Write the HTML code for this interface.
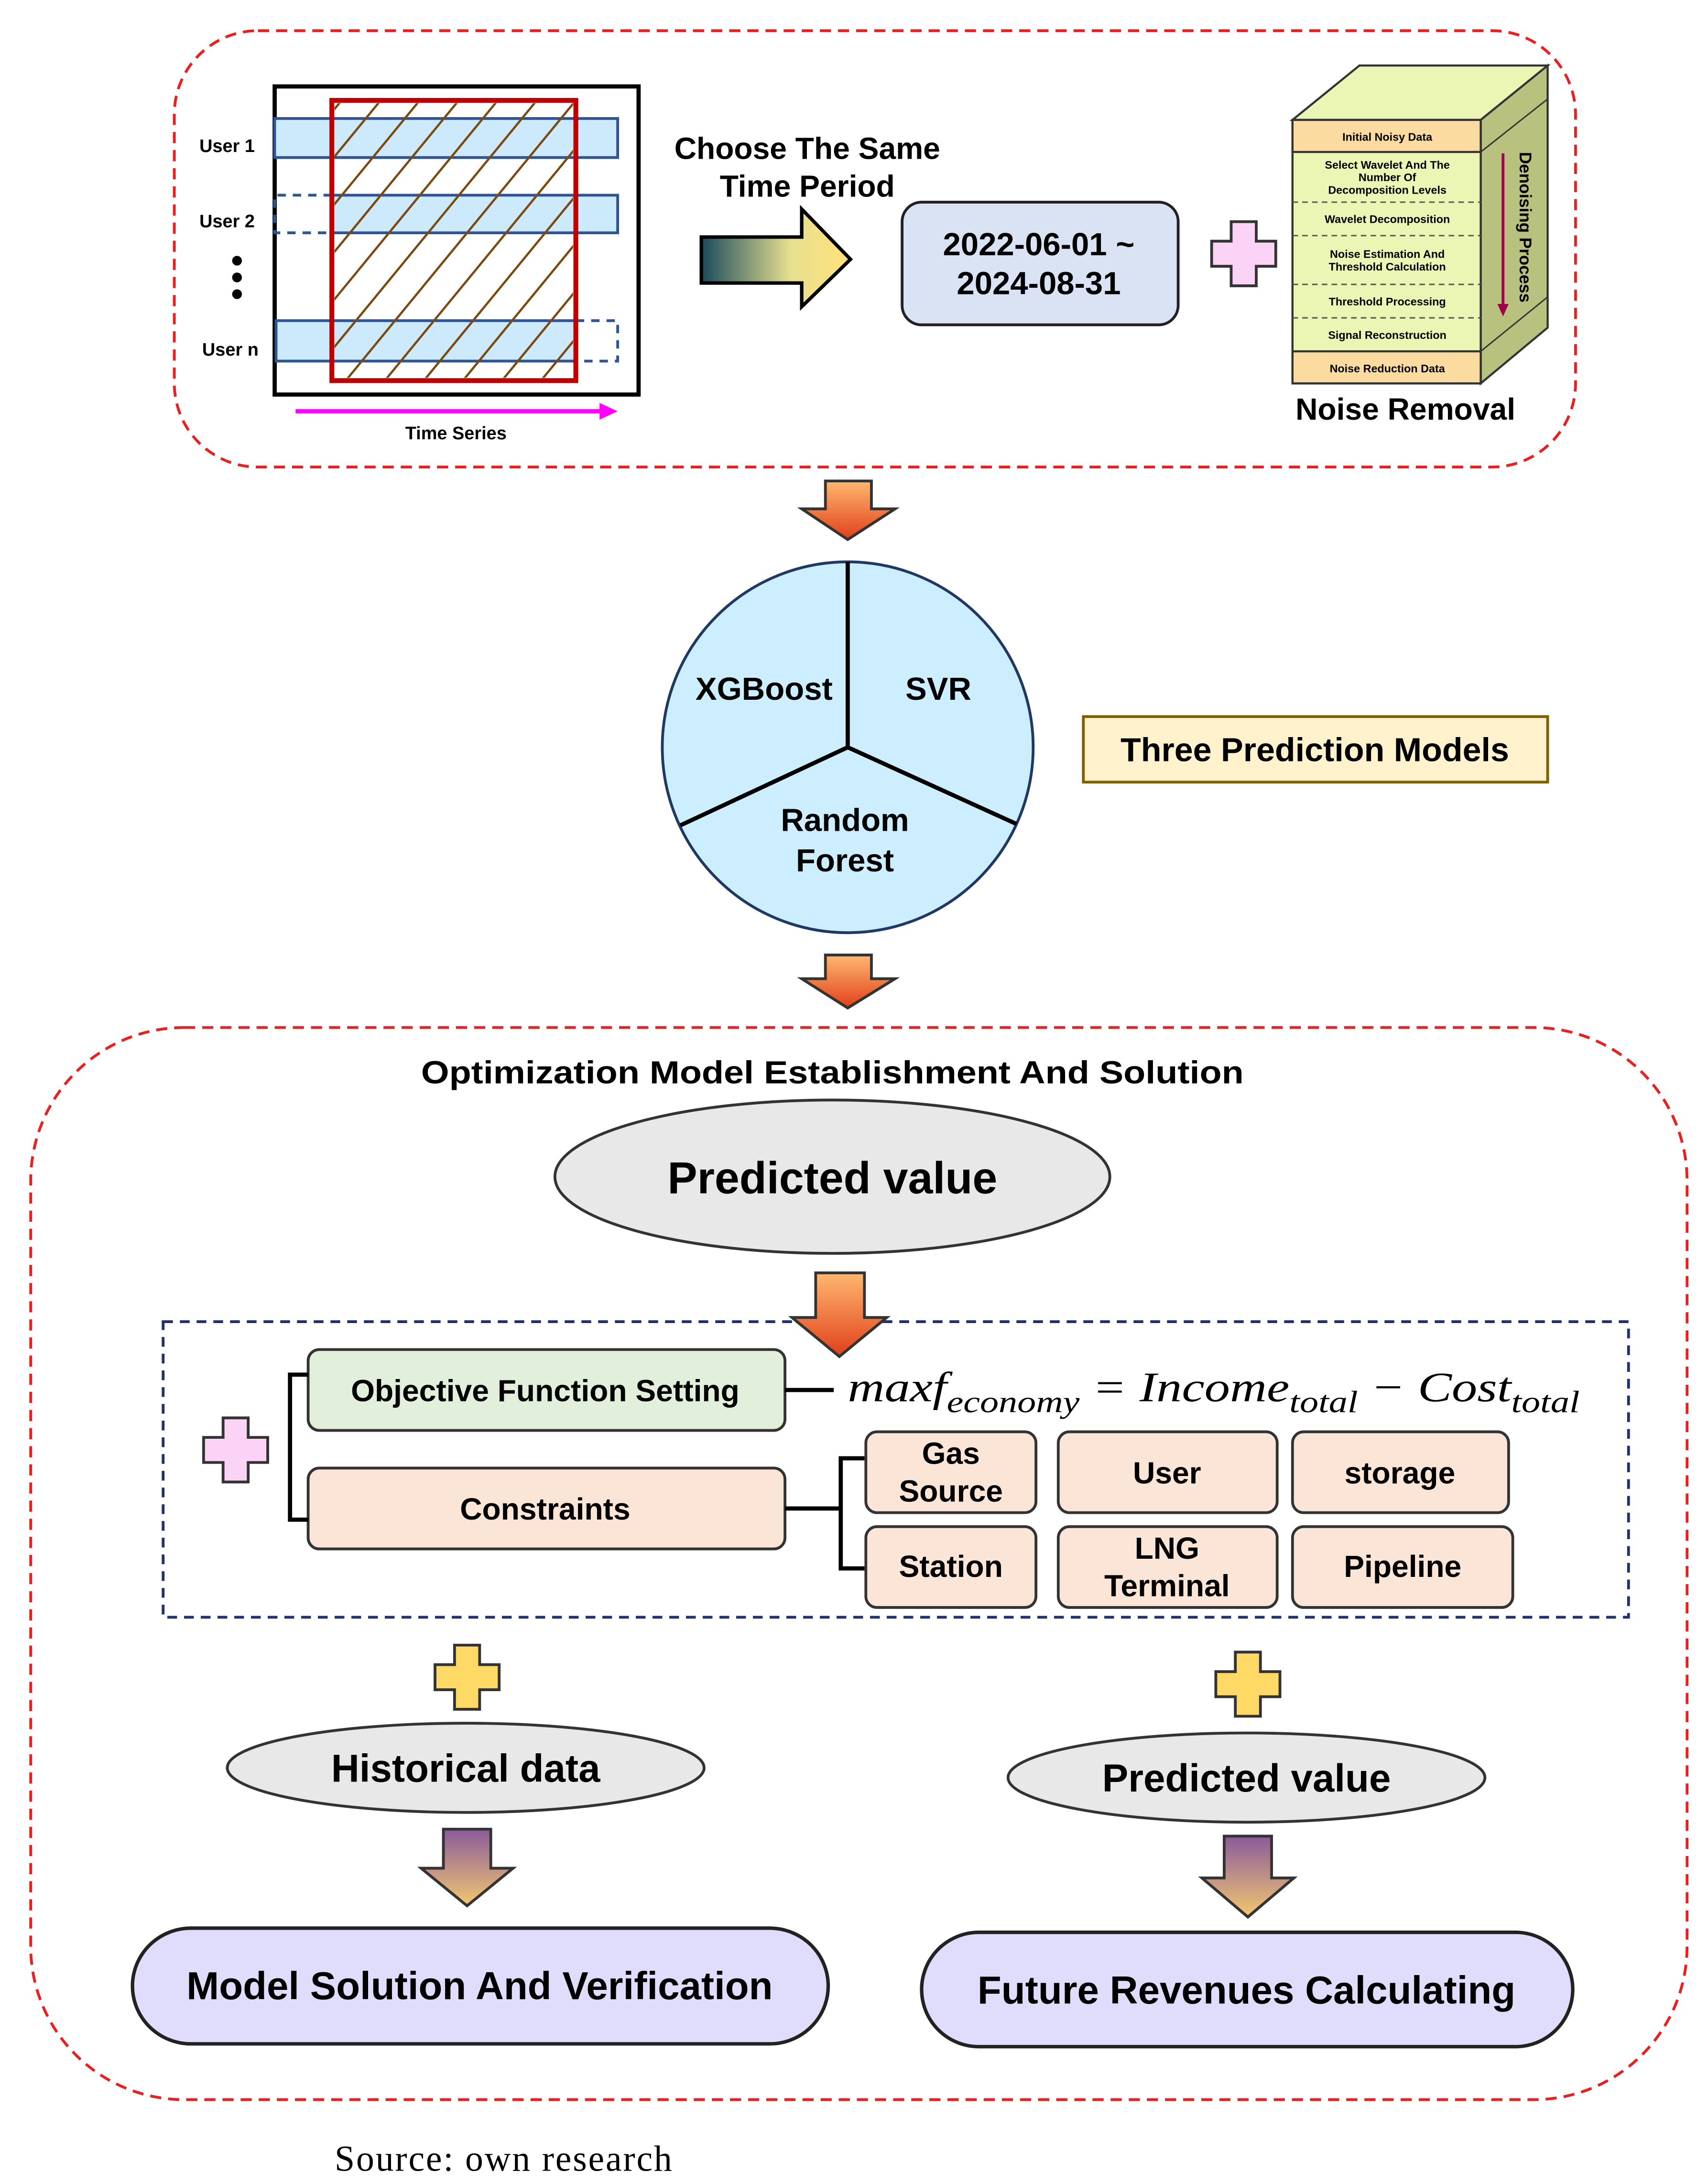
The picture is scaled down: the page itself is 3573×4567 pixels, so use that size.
<!DOCTYPE html>
<html><head><meta charset="utf-8"><style>html,body{margin:0;padding:0;background:#fff}svg{display:block}</style></head>
<body>
<svg xmlns="http://www.w3.org/2000/svg" width="3573" height="4567" viewBox="0 0 1225 1565.8" font-family="Liberation Sans, DejaVu Sans, sans-serif" font-weight="bold">
<defs>
<linearGradient id="og" x1="0" y1="0" x2="0" y2="1"><stop offset="0" stop-color="#ffb870"/><stop offset="1" stop-color="#e0401a"/></linearGradient>
<linearGradient id="pg" x1="0" y1="0" x2="0" y2="1"><stop offset="0" stop-color="#8a5a9a"/><stop offset="1" stop-color="#f2c870"/></linearGradient>
<linearGradient id="tg" x1="0" y1="0" x2="1" y2="0"><stop offset="0" stop-color="#1a4a5e"/><stop offset="0.6" stop-color="#e8e090"/><stop offset="1" stop-color="#ffe27a"/></linearGradient>
<clipPath id="rc"><rect x="240" y="74" width="171" height="197"/></clipPath>
</defs>
<rect x="125" y="22" width="1005" height="313" rx="60" fill="none" stroke="#e82020" stroke-width="2" stroke-dasharray="8,5"/>
<rect x="22" y="737" width="1188" height="769" rx="110" fill="none" stroke="#e82020" stroke-width="2" stroke-dasharray="8,5"/>
<rect x="197" y="62" width="261" height="221" fill="#fff" stroke="#000" stroke-width="3"/>
<rect x="197" y="85" width="246" height="28" fill="#cdeafc" stroke="#2f5597" stroke-width="2"/>
<rect x="238" y="140" width="205" height="27" fill="#cdeafc" stroke="#2f5597" stroke-width="2"/>
<path d="M238 140 H197 V167 H238" fill="none" stroke="#2f5597" stroke-width="2" stroke-dasharray="6,5"/>
<rect x="198" y="230" width="215" height="29" fill="#cdeafc" stroke="#2f5597" stroke-width="2"/>
<path d="M413 230 H443 V259 H413" fill="none" stroke="#2f5597" stroke-width="2" stroke-dasharray="6,5"/>
<g clip-path="url(#rc)" stroke="#7a4a10" stroke-width="1.6">
<line x1="80" y1="273" x2="245" y2="72"/><line x1="108" y1="273" x2="273" y2="72"/><line x1="136" y1="273" x2="301" y2="72"/><line x1="164" y1="273" x2="329" y2="72"/><line x1="192" y1="273" x2="357" y2="72"/><line x1="220" y1="273" x2="385" y2="72"/><line x1="248" y1="273" x2="413" y2="72"/><line x1="276" y1="273" x2="441" y2="72"/><line x1="304" y1="273" x2="469" y2="72"/><line x1="332" y1="273" x2="497" y2="72"/><line x1="360" y1="273" x2="525" y2="72"/><line x1="388" y1="273" x2="553" y2="72"/>
</g>
<rect x="238" y="72" width="175" height="201" fill="none" stroke="#c00000" stroke-width="3.5"/>
<line x1="212" y1="295" x2="432" y2="295" stroke="#ff00ff" stroke-width="3"/><polygon points="430,289 443,295 430,301" fill="#ff00ff"/>
<g font-size="13" fill="#000"><text x="143" y="109">User 1</text><text x="143" y="163">User 2</text><text x="145" y="255">User n</text><text x="327" y="315" text-anchor="middle">Time Series</text></g>
<circle cx="170" cy="187" r="3.5"/><circle cx="170" cy="199" r="3.5"/><circle cx="170" cy="211" r="3.5"/>
<g font-size="22" text-anchor="middle"><text x="579" y="114">Choose The Same</text><text x="579" y="141">Time Period</text></g>
<polygon points="503,170 575,170 575,150 610,186 575,220 575,203 503,203" fill="url(#tg)" stroke="#000" stroke-width="2.5"/>
<rect x="647" y="145" width="198" height="88" rx="14" fill="#dae3f3" stroke="#222" stroke-width="2"/>
<g font-size="23" text-anchor="middle"><text x="745" y="183">2022-06-01 ~</text><text x="745" y="211">2024-08-31</text></g>
<polygon points="883,159 901,159 901,173 915,173 915,191 901,191 901,205 883,205 883,191 869,191 869,173 883,173" fill="#fbd3f7" stroke="#333" stroke-width="2"/>
<polygon points="927,86 975,47 1110,47 1062,86" fill="#ebf5b4" stroke="#333" stroke-width="1.5"/>
<polygon points="1062,86 1110,47 1110,235 1062,275" fill="#b9c17e" stroke="#333" stroke-width="1.5"/>
<line x1="1062" y1="109" x2="1110" y2="71" stroke="#333"/><line x1="1062" y1="252" x2="1110" y2="213" stroke="#333"/>
<rect x="927" y="86" width="135" height="189" fill="#ebf5b4" stroke="#333" stroke-width="1.5"/>
<rect x="927" y="86" width="135" height="23" fill="#fcdba0" stroke="#333" stroke-width="1.5"/>
<rect x="927" y="252" width="135" height="23" fill="#fcdba0" stroke="#333" stroke-width="1.5"/>
<g stroke="#555" stroke-dasharray="4,3"><line x1="927" y1="145" x2="1062" y2="145"/><line x1="927" y1="169" x2="1062" y2="169"/><line x1="927" y1="204" x2="1062" y2="204"/><line x1="927" y1="228" x2="1062" y2="228"/></g>
<line x1="1078" y1="110" x2="1078" y2="220" stroke="#a0004a" stroke-width="2"/><polygon points="1074,218 1082,218 1078,227" fill="#a0004a"/>
<text transform="translate(1090,163) rotate(90)" font-size="12" text-anchor="middle">Denoising Process</text>
<g font-size="8" text-anchor="middle"><text x="995" y="101">Initial Noisy Data</text><text x="995" y="121">Select Wavelet And The</text><text x="995" y="130">Number Of</text><text x="995" y="139">Decomposition Levels</text><text x="995" y="160">Wavelet Decomposition</text><text x="995" y="185">Noise Estimation And</text><text x="995" y="194">Threshold Calculation</text><text x="995" y="219">Threshold Processing</text><text x="995" y="243">Signal Reconstruction</text><text x="995" y="267">Noise Reduction Data</text></g>
<text x="1008" y="301" font-size="22" text-anchor="middle">Noise Removal</text>
<polygon points="592,345 625,345 625,365 642,365 608,387 575,365 592,365" fill="url(#og)" stroke="#333" stroke-width="2"/>
<polygon points="592,685 625,685 625,702 642,702 608,723 575,702 592,702" fill="url(#og)" stroke="#333" stroke-width="2"/>
<circle cx="608" cy="536" r="133" fill="#cdeeff" stroke="#1f3864" stroke-width="2"/>
<g stroke="#000" stroke-width="3"><line x1="608" y1="536" x2="608" y2="403"/><line x1="608" y1="536" x2="488" y2="592"/><line x1="608" y1="536" x2="729" y2="591"/></g>
<g font-size="23" text-anchor="middle"><text x="548" y="502">XGBoost</text><text x="673" y="502">SVR</text><text x="606" y="596">Random</text><text x="606" y="625">Forest</text></g>
<rect x="777" y="514" width="333" height="47" fill="#fff2cc" stroke="#7f6000" stroke-width="2"/>
<text x="943" y="546" font-size="24" text-anchor="middle">Three Prediction Models</text>
<text x="597" y="777" font-size="23" text-anchor="middle" textLength="590" lengthAdjust="spacingAndGlyphs">Optimization Model Establishment And Solution</text>
<ellipse cx="597" cy="844" rx="199" ry="55" fill="#e8e8e8" stroke="#333" stroke-width="2"/>
<text x="597" y="856" font-size="32" text-anchor="middle">Predicted value</text>
<rect x="117" y="948" width="1051" height="212" fill="none" stroke="#1f2f6f" stroke-width="2" stroke-dasharray="7,5"/>
<polygon points="585,913 620,913 620,945 636,945 602,973 568,945 585,945" fill="url(#og)" stroke="#333" stroke-width="2"/>
<rect x="221" y="968" width="342" height="58" rx="8" fill="#e2efda" stroke="#333" stroke-width="2"/>
<text x="391" y="1005" font-size="22" text-anchor="middle">Objective Function Setting</text>
<rect x="221" y="1053" width="342" height="58" rx="8" fill="#fbe5d6" stroke="#333" stroke-width="2"/>
<text x="391" y="1090" font-size="22" text-anchor="middle">Constraints</text>
<path d="M221 986 H208 V1090 H221" fill="none" stroke="#000" stroke-width="3"/>
<polygon points="160,1017 178,1017 178,1031 192,1031 192,1049 178,1049 178,1063 160,1063 160,1049 146,1049 146,1031 160,1031" fill="#fbd3f7" stroke="#333" stroke-width="2"/>
<line x1="563" y1="997" x2="598" y2="997" stroke="#000" stroke-width="3"/>
<text x="608" y="1005" font-size="30" font-family="Liberation Serif, serif" font-style="italic" font-weight="normal" textLength="525" lengthAdjust="spacingAndGlyphs">max<tspan>f</tspan><tspan font-size="22" dy="8">economy</tspan><tspan dy="-8"> = Income</tspan><tspan font-size="22" dy="8">total</tspan><tspan dy="-8"> − Cost</tspan><tspan font-size="22" dy="8">total</tspan></text>
<path d="M563 1082 H603 M620 1046 H603 V1125 H620" fill="none" stroke="#000" stroke-width="3"/>
<g fill="#fbe5d6" stroke="#333" stroke-width="2"><rect x="621" y="1027" width="122" height="58" rx="8"/><rect x="759" y="1027" width="157" height="58" rx="8"/><rect x="927" y="1027" width="155" height="58" rx="8"/><rect x="621" y="1095" width="122" height="58" rx="8"/><rect x="759" y="1095" width="157" height="58" rx="8"/><rect x="927" y="1095" width="158" height="58" rx="8"/></g>
<g font-size="22" text-anchor="middle"><text x="682" y="1050">Gas</text><text x="682" y="1077">Source</text><text x="837" y="1064">User</text><text x="1004" y="1064">storage</text><text x="682" y="1131">Station</text><text x="837" y="1118">LNG</text><text x="837" y="1145">Terminal</text><text x="1006" y="1131">Pipeline</text></g>
<polygon points="326,1180 344,1180 344,1194 358,1194 358,1212 344,1212 344,1226 326,1226 326,1212 312,1212 312,1194 326,1194" fill="#ffd966" stroke="#333" stroke-width="2"/>
<polygon points="886,1185 904,1185 904,1199 918,1199 918,1217 904,1217 904,1231 886,1231 886,1217 872,1217 872,1199 886,1199" fill="#ffd966" stroke="#333" stroke-width="2"/>
<ellipse cx="334" cy="1268" rx="171" ry="32" fill="#e8e8e8" stroke="#333" stroke-width="2"/>
<text x="334" y="1278" font-size="28" text-anchor="middle">Historical data</text>
<ellipse cx="894" cy="1275" rx="171" ry="32" fill="#e8e8e8" stroke="#333" stroke-width="2"/>
<text x="894" y="1285" font-size="28" text-anchor="middle">Predicted value</text>
<polygon points="318,1312 352,1312 352,1340 368,1340 335,1367 302,1340 318,1340" fill="url(#pg)" stroke="#333" stroke-width="2"/>
<polygon points="878,1317 912,1317 912,1347 928,1347 895,1375 862,1347 878,1347" fill="url(#pg)" stroke="#333" stroke-width="2"/>
<rect x="95" y="1383" width="499" height="83" rx="42" fill="#e0dcfb" stroke="#222" stroke-width="2.5"/>
<text x="344" y="1434" font-size="28" text-anchor="middle">Model Solution And Verification</text>
<rect x="661" y="1386" width="467" height="82" rx="41" fill="#e0dcfb" stroke="#222" stroke-width="2.5"/>
<text x="894" y="1437" font-size="28" text-anchor="middle">Future Revenues Calculating</text>
<text x="240" y="1557" font-size="26" font-family="Liberation Serif, serif" font-weight="normal" textLength="242">Source: own research</text>
</svg>
</body></html>
